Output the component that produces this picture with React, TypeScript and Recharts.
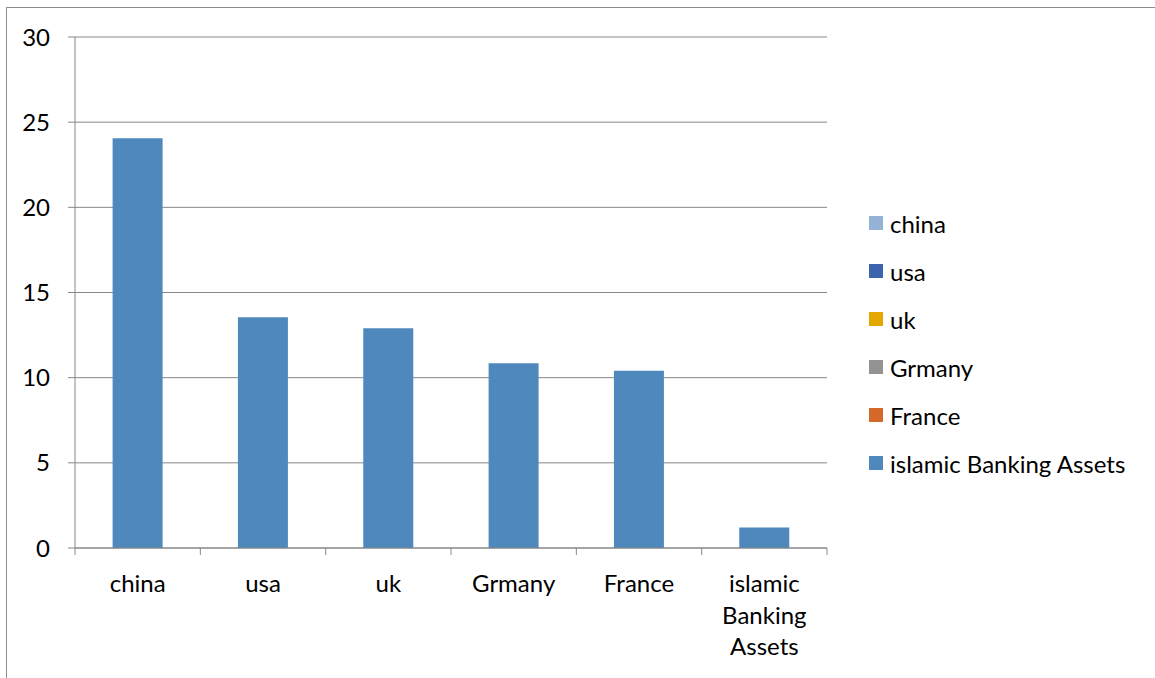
import React from "react";
import {
  BarChart,
  Bar,
  XAxis,
  YAxis,
  CartesianGrid,
  Legend,
  Text,
} from "recharts";

const categories = ["china", "usa", "uk", "Grmany", "France", "islamic Banking Assets"];
const values = [24.05, 13.55, 12.9, 10.85, 10.4, 1.2];
const legendColors = ["#95b3d7", "#3c64ae", "#e5a800", "#939393", "#d4692a", "#4f88bd"];
const yTicks = [0, 5, 10, 15, 20, 25, 30];

const barColor = "#4f88bd";
const gray = "#878787";
const font = "Lato, 'Open Sans', sans-serif";
const fontSize = 24;
const labelGap = 27;
const tickLen = 7;

const data = categories.map((name, i) => ({ name, value: values[i] }));

// excel puts the x tick marks between the categories, so draw them from the band edges
function CategoryTick(props: any) {
  const { x, y, payload, index } = props;
  const half = payload.offset || 0;
  const axisY = y - labelGap;
  const last = index === categories.length - 1;
  return (
    <g>
      <line x1={x - half} x2={x - half} y1={axisY} y2={axisY + tickLen} stroke={gray} />
      {last && (
        <line x1={x + half} x2={x + half} y1={axisY} y2={axisY + tickLen} stroke={gray} />
      )}
      <Text
        x={x}
        y={y}
        width={100}
        textAnchor="middle"
        verticalAnchor="start"
        lineHeight={31.5}
        fontSize={fontSize}
        fontFamily={font}
        fill="#000"
      >
        {payload.value}
      </Text>
    </g>
  );
}

function LegendList() {
  return (
    <div style={{ fontFamily: font, fontSize }}>
      {categories.map((c, i) => (
        <div
          key={c}
          style={{ display: "flex", alignItems: "center", height: 48, whiteSpace: "nowrap" }}
        >
          <span
            style={{
              display: "inline-block",
              width: 14,
              height: 14,
              background: legendColors[i],
              marginRight: 7,
            }}
          />
          <span style={{ color: "#000" }}>{c}</span>
        </div>
      ))}
    </div>
  );
}

export default function App() {
  return (
    <div
      style={{
        position: "absolute",
        left: 0,
        top: 0,
        width: 1155,
        height: 678,
        overflow: "hidden",
        background: "#fff",
      }}
    >
      <div
        style={{
          position: "absolute",
          left: 6,
          top: 7,
          width: 1200,
          height: 700,
          border: "1px solid #8c8c8c",
        }}
      />
      <div style={{ position: "absolute", left: 0, top: 0 }}>
        <BarChart
          width={1155}
          height={678}
          data={data}
          margin={{ top: 37, right: 328, left: 15, bottom: 10 }}
          barCategoryGap="30%"
        >
          <CartesianGrid horizontal vertical={false} stroke={gray} strokeWidth={1} />
          <XAxis
            dataKey="name"
            height={120}
            axisLine={{ stroke: gray }}
            tickLine={false}
            tickSize={0}
            tickMargin={labelGap}
            interval={0}
            tick={<CategoryTick />}
          />
          <YAxis
            width={60}
            domain={[0, 30]}
            ticks={yTicks}
            tickSize={7}
            tickMargin={18}
            tickLine={{ stroke: gray }}
            axisLine={{ stroke: gray }}
            tick={{ fontSize, fontFamily: font, fill: "#000" }}
          />
          <Legend
            layout="vertical"
            align="center"
            verticalAlign="middle"
            wrapperStyle={{ left: 869, top: 199, width: 290 }}
            content={<LegendList />}
          />
          <Bar dataKey="value" fill={barColor} isAnimationActive={false} />
        </BarChart>
      </div>
    </div>
  );
}
